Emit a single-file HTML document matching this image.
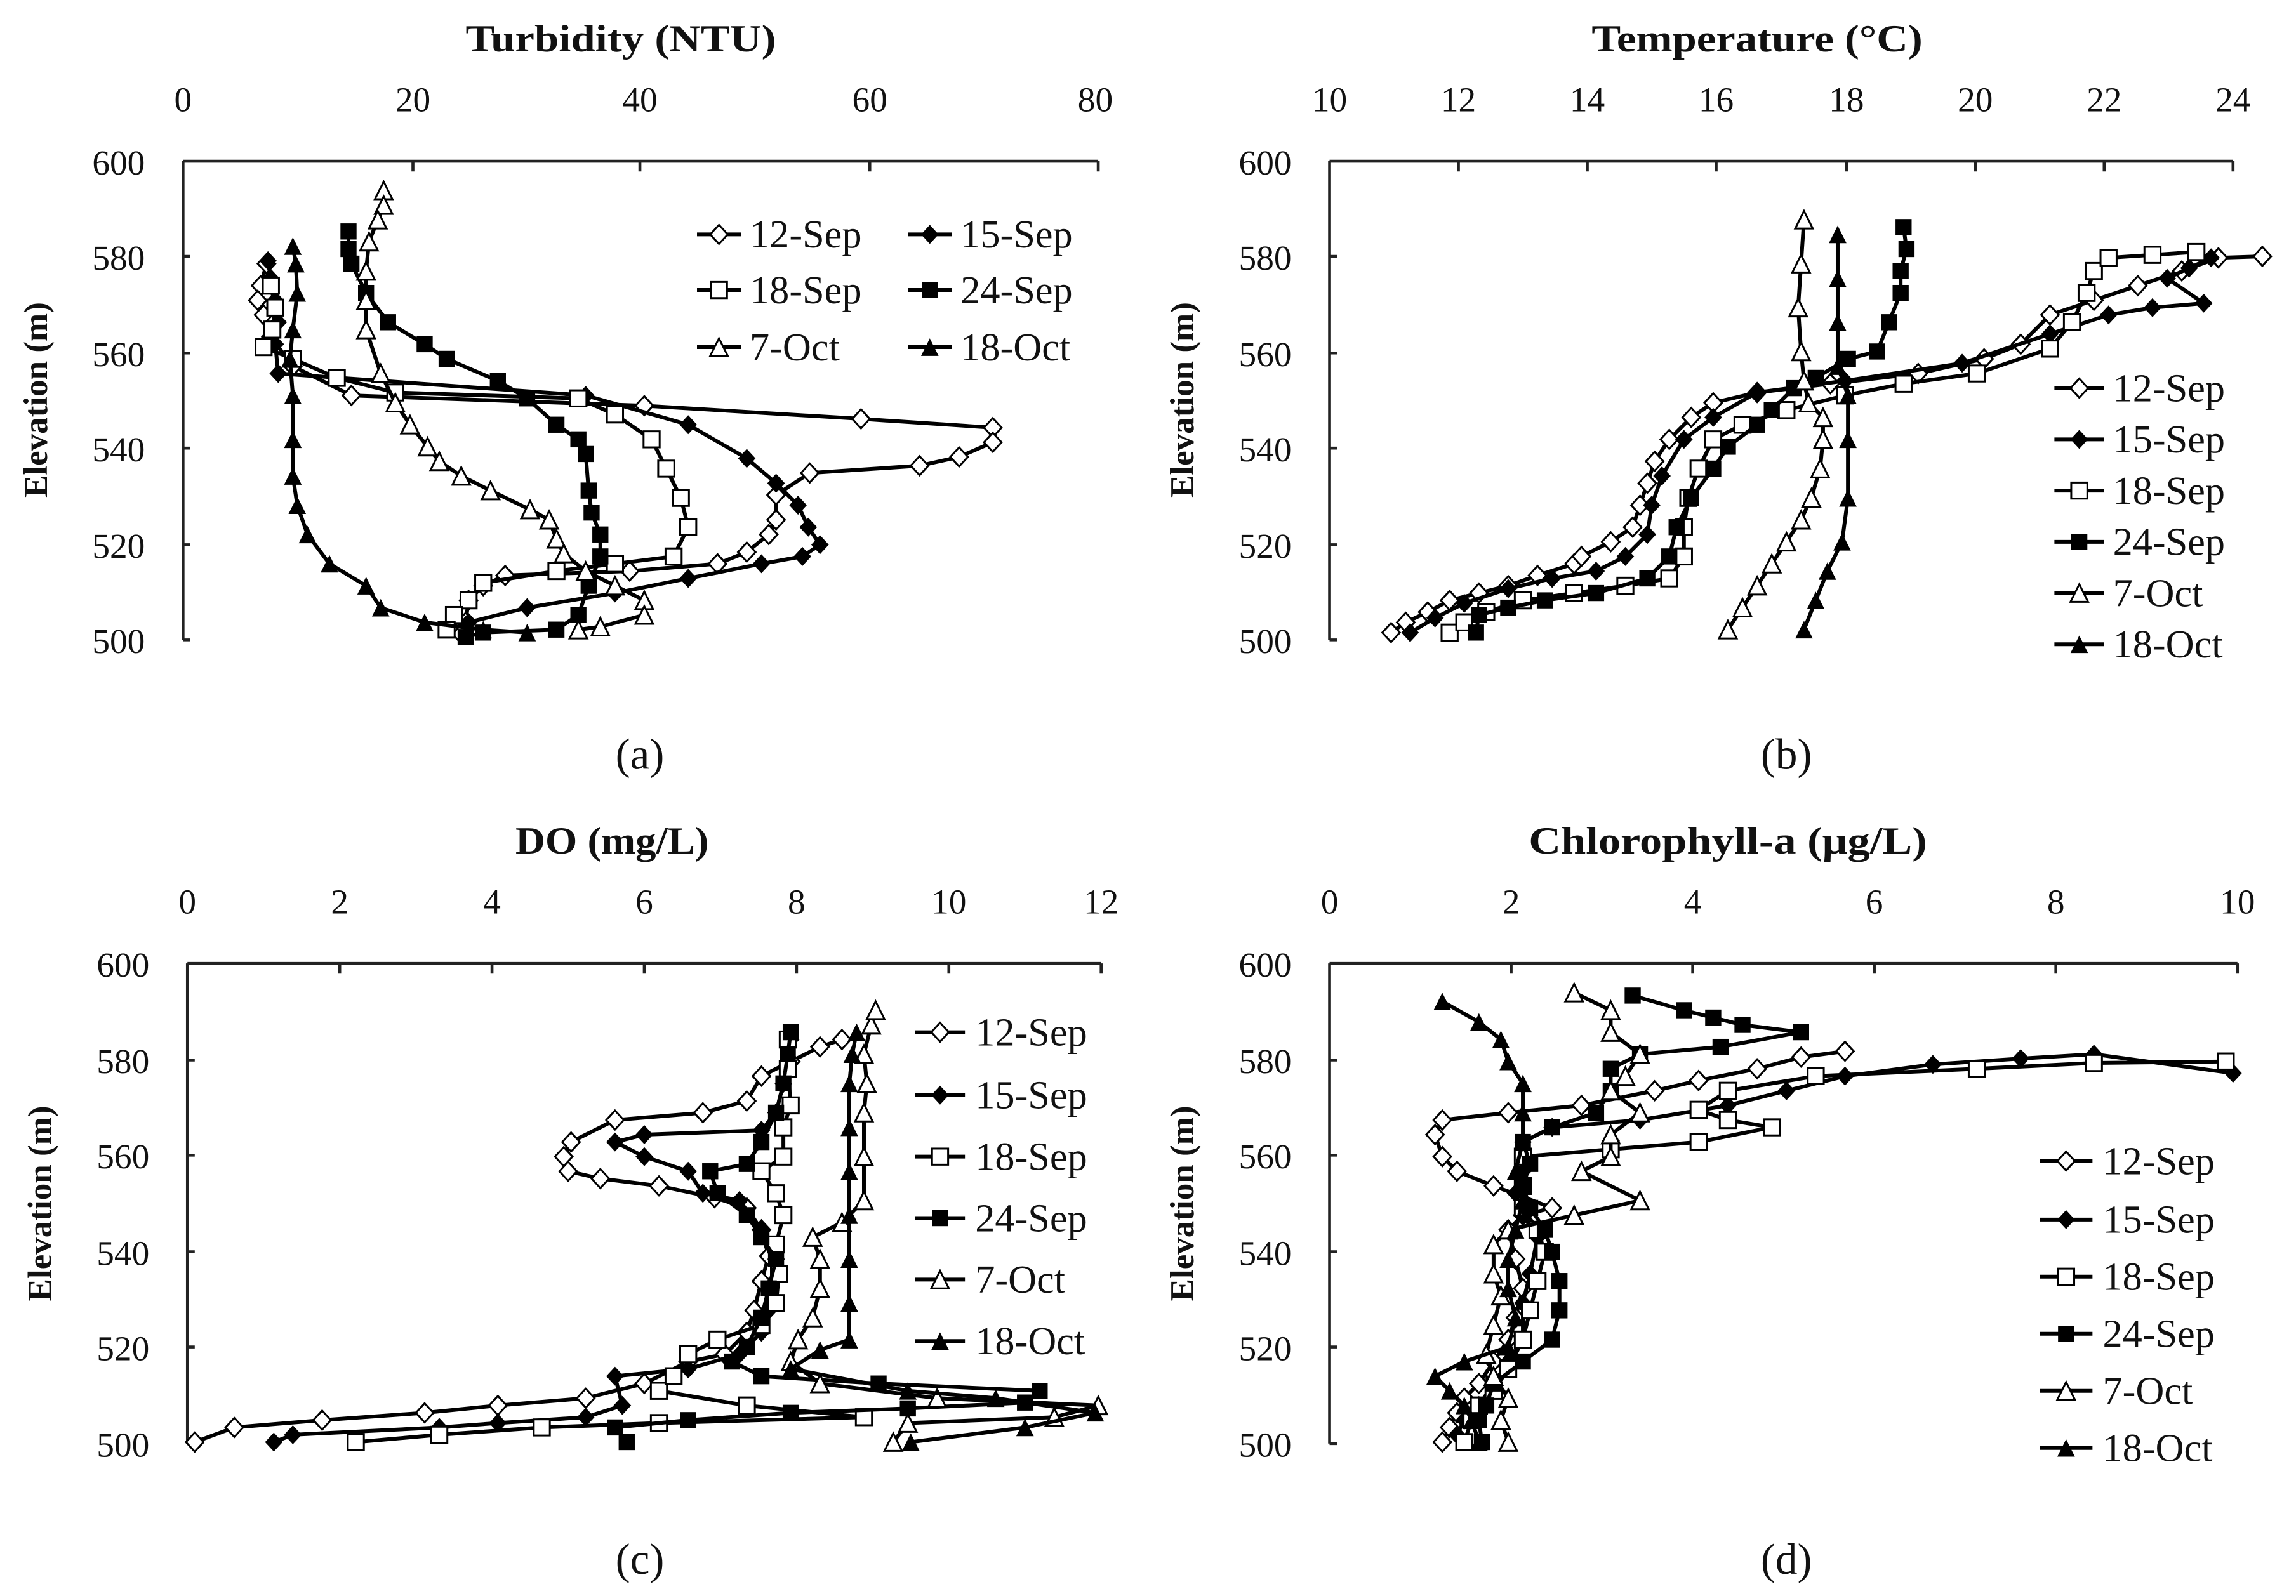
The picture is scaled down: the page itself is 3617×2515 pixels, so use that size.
<!DOCTYPE html>
<html><head><meta charset="utf-8"><style>
html,body{margin:0;padding:0;background:#fff;}
svg{display:block;}
text{font-family:"Liberation Serif",serif;fill:#111;}
.t{font-weight:bold;font-size:26px;}
.k{font-size:24px;}
.lg{font-size:27px;}
.el{font-weight:bold;font-size:23px;}
.cap{font-size:30px;}
.s{fill:none;stroke:#000;stroke-width:2.6;stroke-linejoin:round;}
</style></head><body>
<svg width="3617" height="2515" viewBox="0 0 1568 1090" xmlns="http://www.w3.org/2000/svg">
<defs>
<marker id="dO" markerUnits="userSpaceOnUse" markerWidth="16" markerHeight="16" refX="8" refY="8" overflow="visible"><path d="M8 1.5 L14 8 L8 14.5 L2 8Z" fill="#fff" stroke="#000" stroke-width="1.3"/></marker>
<marker id="dF" markerUnits="userSpaceOnUse" markerWidth="16" markerHeight="16" refX="8" refY="8" overflow="visible"><path d="M8 1.5 L14 8 L8 14.5 L2 8Z" fill="#000"/></marker>
<marker id="sO" markerUnits="userSpaceOnUse" markerWidth="16" markerHeight="16" refX="8" refY="8" overflow="visible"><rect x="2.5" y="2.5" width="11" height="11" fill="#fff" stroke="#000" stroke-width="1.3"/></marker>
<marker id="sF" markerUnits="userSpaceOnUse" markerWidth="16" markerHeight="16" refX="8" refY="8" overflow="visible"><rect x="2.5" y="2.5" width="11" height="11" fill="#000"/></marker>
<marker id="tO" markerUnits="userSpaceOnUse" markerWidth="16" markerHeight="16" refX="8" refY="8" overflow="visible"><path d="M8 2 L14 14 L2 14Z" fill="#fff" stroke="#000" stroke-width="1.3"/></marker>
<marker id="tF" markerUnits="userSpaceOnUse" markerWidth="16" markerHeight="16" refX="8" refY="8" overflow="visible"><path d="M8 2 L14 14 L2 14Z" fill="#000"/></marker>
</defs>

<!-- ===== Panel (a) ===== -->
<text class="t" x="424" y="35" text-anchor="middle" textLength="212" lengthAdjust="spacingAndGlyphs">Turbidity (NTU)</text>
<g class="k" text-anchor="middle">
<text x="125" y="76">0</text><text x="282" y="76">20</text><text x="437" y="76">40</text><text x="594" y="76">60</text><text x="748" y="76">80</text>
</g>
<g class="k" text-anchor="end">
<text x="99" y="119">600</text><text x="99" y="184">580</text><text x="99" y="250">560</text><text x="99" y="315">540</text><text x="99" y="381">520</text><text x="99" y="446">500</text>
</g>
<text class="el" transform="translate(32,273) rotate(-90)" text-anchor="middle">Elevation (m)</text>
<path d="M125 110 H750 M125 110 V437 M282 110 v7 M437 110 v7 M594 110 v7 M750 110 v7 M125 175 h5 M125 241 h5 M125 306 h5 M125 372 h5 M125 437 h5" stroke="#222" stroke-width="2" fill="none"/>
<polyline class="s" marker-start="url(#dO)" marker-mid="url(#dO)" marker-end="url(#dO)" points="182,180 178,195 176,205 180,215 185,230 200,250 240,270 440,277 588,286 678,292 678,302 655,312 628,318 553,323 530,338 530,355 525,365 510,377 490,385 430,390 345,393 330,400 320,410 318,425 315,433"/>
<polyline class="s" marker-start="url(#dF)" marker-mid="url(#dF)" marker-end="url(#dF)" points="183,178 185,190 188,205 190,220 188,235 190,255 400,270 470,290 510,313 530,330 545,345 552,360 560,372 548,380 520,385 470,395 420,405 360,415 320,425"/>
<polyline class="s" marker-start="url(#sO)" marker-mid="url(#sO)" marker-end="url(#sO)" points="185,195 188,210 186,225 180,237 200,245 230,258 270,268 395,272 420,283 445,300 455,320 465,340 470,360 460,380 420,385 380,390 330,398 320,410 310,420 305,430"/>
<polyline class="s" marker-start="url(#sF)" marker-mid="url(#sF)" marker-end="url(#sF)" points="238,158 238,170 240,180 250,200 265,220 290,235 305,245 340,260 360,272 380,290 395,300 400,310 402,335 404,350 410,365 410,380 402,400 395,420 380,430 330,432 318,435"/>
<polyline class="s" marker-start="url(#tO)" marker-mid="url(#tO)" marker-end="url(#tO)" points="262,130 262,140 258,150 252,165 250,185 250,205 250,225 260,255 270,275 280,290 292,305 300,315 315,325 335,335 362,348 375,355 380,368 385,378 400,390 420,400 440,410 440,420 410,428 395,430"/>
<polyline class="s" marker-start="url(#tF)" marker-mid="url(#tF)" marker-end="url(#tF)" points="200,168 202,180 203,200 200,225 198,245 200,270 200,300 200,325 203,345 210,365 225,385 250,400 260,415 290,425 330,430 360,432"/>
<g class="lg">
<polyline class="s" points="476,160 491,160 506,160" marker-mid="url(#dO)"/><text x="512" y="169">12-Sep</text>
<polyline class="s" points="620,160 635,160 650,160" marker-mid="url(#dF)"/><text x="656" y="169">15-Sep</text>
<polyline class="s" points="476,198 491,198 506,198" marker-mid="url(#sO)"/><text x="512" y="207">18-Sep</text>
<polyline class="s" points="620,198 635,198 650,198" marker-mid="url(#sF)"/><text x="656" y="207">24-Sep</text>
<polyline class="s" points="476,237 491,237 506,237" marker-mid="url(#tO)"/><text x="512" y="246">7-Oct</text>
<polyline class="s" points="620,237 635,237 650,237" marker-mid="url(#tF)"/><text x="656" y="246">18-Oct</text>
</g>
<text class="cap" x="437" y="525" text-anchor="middle">(a)</text>

<!-- ===== Panel (b) ===== -->
<text class="t" x="1200" y="35" text-anchor="middle" textLength="226" lengthAdjust="spacingAndGlyphs">Temperature (°C)</text>
<g class="k" text-anchor="middle">
<text x="908" y="76">10</text><text x="996" y="76">12</text><text x="1084" y="76">14</text><text x="1172" y="76">16</text><text x="1261" y="76">18</text><text x="1349" y="76">20</text><text x="1437" y="76">22</text><text x="1525" y="76">24</text>
</g>
<g class="k" text-anchor="end">
<text x="882" y="119">600</text><text x="882" y="184">580</text><text x="882" y="250">560</text><text x="882" y="315">540</text><text x="882" y="381">520</text><text x="882" y="446">500</text>
</g>
<text class="el" transform="translate(815,273) rotate(-90)" text-anchor="middle">Elevation (m)</text>
<path d="M908 110 H1525 M908 110 V437 M996 110 v7 M1084 110 v7 M1172 110 v7 M1261 110 v7 M1349 110 v7 M1437 110 v7 M1525 110 v7 M908 175 h5 M908 241 h5 M908 306 h5 M908 372 h5 M908 437 h5" stroke="#222" stroke-width="2" fill="none"/>
<polyline class="s" marker-start="url(#dO)" marker-mid="url(#dO)" marker-end="url(#dO)" points="950,432 960,425 975,418 990,410 1010,405 1030,400 1050,393 1075,385 1080,380 1100,370 1115,360 1120,345 1125,330 1130,315 1140,300 1155,285 1170,275 1200,268 1250,262 1310,255 1355,245 1380,235 1400,215 1430,205 1460,195 1490,185 1515,176 1545,175"/>
<polyline class="s" marker-start="url(#dF)" marker-mid="url(#dF)" marker-end="url(#dF)" points="963,432 980,422 1000,412 1030,402 1060,395 1090,390 1110,380 1125,365 1128,345 1135,325 1150,300 1170,285 1200,268 1260,260 1340,248 1400,228 1440,215 1470,210 1505,207 1480,190 1495,183 1510,176"/>
<polyline class="s" marker-start="url(#sO)" marker-mid="url(#sO)" marker-end="url(#sO)" points="990,432 1000,425 1015,418 1040,410 1075,405 1110,400 1140,395 1150,380 1150,360 1153,340 1160,320 1170,300 1190,290 1220,280 1260,270 1300,262 1350,255 1400,238 1415,220 1425,200 1430,185 1440,176 1470,174 1500,172"/>
<polyline class="s" marker-start="url(#sF)" marker-mid="url(#sF)" marker-end="url(#sF)" points="1008,432 1010,420 1030,415 1055,410 1090,405 1125,395 1140,380 1145,360 1155,340 1170,320 1180,305 1200,290 1210,280 1225,265 1240,258 1262,245 1282,240 1290,220 1298,200 1298,185 1302,170 1300,155"/>
<polyline class="s" marker-start="url(#tO)" marker-mid="url(#tO)" marker-end="url(#tO)" points="1180,430 1190,415 1200,400 1210,385 1220,370 1230,355 1237,340 1243,320 1245,300 1245,285 1235,275 1232,260 1230,240 1228,210 1230,180 1232,150"/>
<polyline class="s" marker-start="url(#tF)" marker-mid="url(#tF)" marker-end="url(#tF)" points="1232,430 1240,410 1248,390 1258,370 1262,340 1262,300 1262,270 1255,250 1255,220 1255,190 1255,160"/>
<g class="lg">
<polyline class="s" points="1403,265 1420,265 1437,265" marker-mid="url(#dO)"/><text x="1443" y="274">12-Sep</text>
<polyline class="s" points="1403,300 1420,300 1437,300" marker-mid="url(#dF)"/><text x="1443" y="309">15-Sep</text>
<polyline class="s" points="1403,335 1420,335 1437,335" marker-mid="url(#sO)"/><text x="1443" y="344">18-Sep</text>
<polyline class="s" points="1403,370 1420,370 1437,370" marker-mid="url(#sF)"/><text x="1443" y="379">24-Sep</text>
<polyline class="s" points="1403,405 1420,405 1437,405" marker-mid="url(#tO)"/><text x="1443" y="414">7-Oct</text>
<polyline class="s" points="1403,440 1420,440 1437,440" marker-mid="url(#tF)"/><text x="1443" y="449">18-Oct</text>
</g>
<text class="cap" x="1220" y="525" text-anchor="middle">(b)</text>

<!-- ===== Panel (c) ===== -->
<text class="t" x="418" y="583" text-anchor="middle" textLength="132" lengthAdjust="spacingAndGlyphs">DO (mg/L)</text>
<g class="k" text-anchor="middle">
<text x="128" y="624">0</text><text x="232" y="624">2</text><text x="336" y="624">4</text><text x="440" y="624">6</text><text x="544" y="624">8</text><text x="648" y="624">10</text><text x="752" y="624">12</text>
</g>
<g class="k" text-anchor="end">
<text x="102" y="667">600</text><text x="102" y="733">580</text><text x="102" y="798">560</text><text x="102" y="864">540</text><text x="102" y="929">520</text><text x="102" y="995">500</text>
</g>
<text class="el" transform="translate(35,822) rotate(-90)" text-anchor="middle">Elevation (m)</text>
<path d="M128 658 H752 M128 658 V986 M232 658 v7 M336 658 v7 M440 658 v7 M544 658 v7 M648 658 v7 M752 658 v7 M128 724 h5 M128 789 h5 M128 855 h5 M128 920 h5 M128 986 h5" stroke="#222" stroke-width="2" fill="none"/>
<polyline class="s" marker-start="url(#dO)" marker-mid="url(#dO)" marker-end="url(#dO)" points="133,985 160,975 220,970 290,965 340,960 400,955 440,945 470,930 495,925 510,910 515,895 520,875 525,858 520,840 510,825 488,818 450,810 410,805 388,800 385,790 390,780 420,765 480,760 510,752 520,735 540,725 560,715 575,710"/>
<polyline class="s" marker-start="url(#dF)" marker-mid="url(#dF)" marker-end="url(#dF)" points="187,985 200,980 300,975 340,972 400,968 425,960 420,940 470,935 505,925 520,910 525,895 525,880 530,860 520,840 505,820 480,815 470,800 440,790 420,780 440,775 520,772 530,760 535,740 538,725 540,710"/>
<polyline class="s" marker-start="url(#sO)" marker-mid="url(#sO)" marker-end="url(#sO)" points="243,985 300,980 370,975 450,972 590,968 510,960 450,950 460,940 470,925 490,915 520,905 530,890 532,870 530,850 535,830 530,815 520,800 535,790 535,770 540,755 538,730 538,710"/>
<polyline class="s" marker-start="url(#sF)" marker-mid="url(#sF)" marker-end="url(#sF)" points="428,985 420,975 470,970 540,965 620,962 700,958 710,950 600,945 520,940 500,930 510,920 520,900 525,880 530,860 520,845 510,830 490,815 485,800 510,795 520,780 530,760 535,740 538,720 540,705"/>
<polyline class="s" marker-start="url(#tO)" marker-mid="url(#tO)" marker-end="url(#tO)" points="610,985 620,972 720,968 750,960 640,955 560,945 540,930 545,915 555,900 560,880 560,860 555,845 575,835 590,820 590,790 590,760 592,740 590,720 595,700 598,690"/>
<polyline class="s" marker-start="url(#tF)" marker-mid="url(#tF)" marker-end="url(#tF)" points="622,985 700,975 748,965 680,955 620,950 540,935 560,922 580,915 580,890 580,860 580,830 580,800 580,770 580,740 582,720 585,705"/>
<g class="lg">
<polyline class="s" points="625,705 642,705 659,705" marker-mid="url(#dO)"/><text x="666" y="714">12-Sep</text>
<polyline class="s" points="625,748 642,748 659,748" marker-mid="url(#dF)"/><text x="666" y="757">15-Sep</text>
<polyline class="s" points="625,790 642,790 659,790" marker-mid="url(#sO)"/><text x="666" y="799">18-Sep</text>
<polyline class="s" points="625,832 642,832 659,832" marker-mid="url(#sF)"/><text x="666" y="841">24-Sep</text>
<polyline class="s" points="625,874 642,874 659,874" marker-mid="url(#tO)"/><text x="666" y="883">7-Oct</text>
<polyline class="s" points="625,916 642,916 659,916" marker-mid="url(#tF)"/><text x="666" y="925">18-Oct</text>
</g>
<text class="cap" x="437" y="1075" text-anchor="middle">(c)</text>

<!-- ===== Panel (d) ===== -->
<text class="t" x="1180" y="583" text-anchor="middle" textLength="272" lengthAdjust="spacingAndGlyphs">Chlorophyll-a (μg/L)</text>
<g class="k" text-anchor="middle">
<text x="908" y="624">0</text><text x="1032" y="624">2</text><text x="1156" y="624">4</text><text x="1280" y="624">6</text><text x="1404" y="624">8</text><text x="1528" y="624">10</text>
</g>
<g class="k" text-anchor="end">
<text x="882" y="667">600</text><text x="882" y="733">580</text><text x="882" y="798">560</text><text x="882" y="864">540</text><text x="882" y="929">520</text><text x="882" y="995">500</text>
</g>
<text class="el" transform="translate(815,822) rotate(-90)" text-anchor="middle">Elevation (m)</text>
<path d="M908 658 H1528 M908 658 V986 M1032 658 v7 M1156 658 v7 M1280 658 v7 M1404 658 v7 M1528 658 v7 M908 724 h5 M908 789 h5 M908 855 h5 M908 920 h5 M908 986 h5" stroke="#222" stroke-width="2" fill="none"/>
<polyline class="s" marker-start="url(#dO)" marker-mid="url(#dO)" marker-end="url(#dO)" points="985,985 990,975 995,965 1000,955 1010,945 1020,930 1030,915 1035,900 1040,880 1035,860 1030,840 1040,830 1060,825 1020,810 995,800 985,790 980,775 985,765 1030,760 1080,755 1130,745 1160,738 1200,730 1230,722 1260,718"/>
<polyline class="s" marker-start="url(#dF)" marker-mid="url(#dF)" marker-end="url(#dF)" points="995,980 1000,970 1010,960 1020,945 1030,930 1040,915 1040,890 1045,870 1050,845 1040,830 1035,815 1040,800 1040,780 1060,770 1120,765 1180,755 1220,745 1260,735 1320,727 1380,723 1430,720 1525,733"/>
<polyline class="s" marker-start="url(#sO)" marker-mid="url(#sO)" marker-end="url(#sO)" points="1000,985 1005,970 1010,960 1020,950 1030,935 1040,915 1045,895 1050,875 1055,855 1050,840 1040,825 1040,810 1040,790 1100,785 1160,780 1210,770 1180,765 1160,758 1180,745 1240,735 1350,730 1430,726 1520,725"/>
<polyline class="s" marker-start="url(#sF)" marker-mid="url(#sF)" marker-end="url(#sF)" points="1012,985 1010,970 1015,960 1020,945 1040,930 1060,915 1065,895 1065,875 1060,855 1055,840 1045,825 1040,810 1045,795 1040,780 1060,770 1090,760 1100,745 1100,730 1120,720 1175,715 1230,705 1190,700 1170,695 1150,690 1115,680"/>
<polyline class="s" marker-start="url(#tO)" marker-mid="url(#tO)" marker-end="url(#tO)" points="1030,985 1025,970 1030,955 1020,940 1015,925 1020,905 1025,885 1020,870 1020,850 1030,840 1075,830 1120,820 1080,800 1100,790 1100,775 1120,760 1100,745 1110,735 1120,720 1100,705 1100,690 1075,678"/>
<polyline class="s" marker-start="url(#tF)" marker-mid="url(#tF)" marker-end="url(#tF)" points="1010,985 1005,970 1000,960 990,950 980,940 1000,930 1030,920 1035,900 1030,880 1030,860 1035,840 1040,820 1035,800 1040,780 1040,760 1040,740 1030,725 1025,710 1010,698 985,684"/>
<g class="lg">
<polyline class="s" points="1393,793 1411,793 1429,793" marker-mid="url(#dO)"/><text x="1436" y="802">12-Sep</text>
<polyline class="s" points="1393,833 1411,833 1429,833" marker-mid="url(#dF)"/><text x="1436" y="842">15-Sep</text>
<polyline class="s" points="1393,872 1411,872 1429,872" marker-mid="url(#sO)"/><text x="1436" y="881">18-Sep</text>
<polyline class="s" points="1393,911 1411,911 1429,911" marker-mid="url(#sF)"/><text x="1436" y="920">24-Sep</text>
<polyline class="s" points="1393,950 1411,950 1429,950" marker-mid="url(#tO)"/><text x="1436" y="959">7-Oct</text>
<polyline class="s" points="1393,989 1411,989 1429,989" marker-mid="url(#tF)"/><text x="1436" y="998">18-Oct</text>
</g>
<text class="cap" x="1220" y="1075" text-anchor="middle">(d)</text>
</svg>
</body></html>
